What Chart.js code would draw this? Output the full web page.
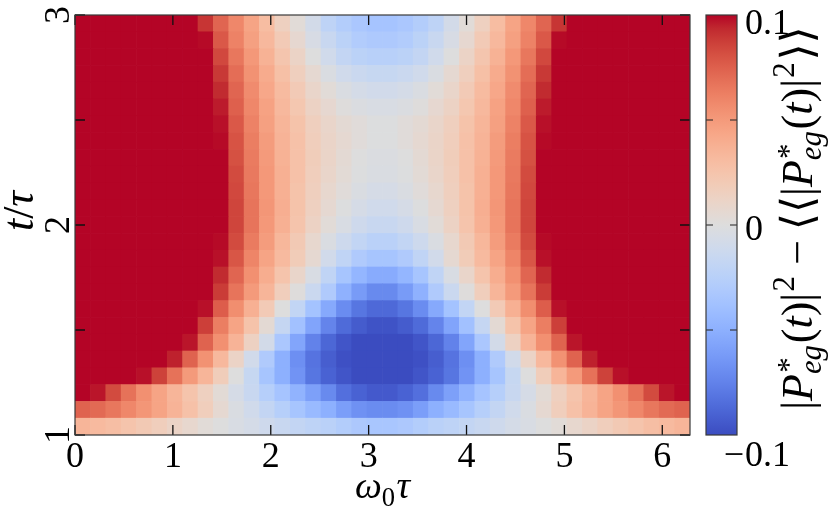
<!DOCTYPE html>
<html>
<head>
<meta charset="utf-8">
<script src="https://cdn.jsdelivr.net/npm/chart.js@4.4.1/dist/chart.umd.min.js"></script>
<style>
  html, body { margin: 0; padding: 0; background: #fff; }
  #wrap { position: relative; width: 831px; height: 508px; }
  #wrap canvas { position: absolute; top: 0; }
  #heat { left: 0; }
  #cbar { left: 690px; }
</style>
</head>
<body>
<div id="wrap">
  <canvas id="heat" width="831" height="508"></canvas>
  <canvas id="cbar" width="141" height="508"></canvas>
</div>
<script>
const SERIF = '"Liberation Serif", "DejaVu Serif", serif';

// omega_0 tau : centres of the 40 columns
const omegaTau = [0.079, 0.236, 0.393, 0.550, 0.707, 0.864, 1.021, 1.178, 1.335, 1.492,
  1.649, 1.806, 1.963, 2.120, 2.278, 2.435, 2.592, 2.749, 2.906, 3.063,
  3.220, 3.377, 3.534, 3.691, 3.848, 4.006, 4.163, 4.320, 4.477, 4.634,
  4.791, 4.948, 5.105, 5.262, 5.419, 5.576, 5.733, 5.890, 6.048, 6.205];

// t / tau : row boundaries (25 rows)
const tEdges = [1, 1.08, 1.16, 1.24, 1.32, 1.40, 1.48, 1.56, 1.64, 1.72, 1.80, 1.88, 1.96,
  2.04, 2.12, 2.20, 2.28, 2.36, 2.44, 2.52, 2.60, 2.68, 2.76, 2.84, 2.92, 3];

// |P|^2 - <<|P|^2>>, one row per t (clipped at +-0.1)
const z104 = [.035,.032,.029,.025,.021,.017,.012,.008,.003,0,-.004,-.007,-.011,-.015,-.018,-.021,-.024,-.028,-.032,-.034,-.034,-.032,-.028,-.024,-.021,-.018,-.015,-.011,-.007,-.004,0,.003,.008,.012,.017,.021,.025,.029,.032,.035];
const z112 = [.074,.071,.066,.059,.052,.045,.036,.027,.017,.006,-.003,-.01,-.018,-.026,-.035,-.043,-.05,-.06,-.067,-.07,-.07,-.067,-.06,-.05,-.043,-.035,-.026,-.018,-.01,-.003,.006,.017,.027,.036,.045,.052,.059,.066,.071,.074];
const z120 = [.1,.097,.083,.068,.055,.045,.035,.025,.015,.004,-.006,-.015,-.026,-.036,-.048,-.059,-.071,-.084,-.09,-.094,-.094,-.09,-.084,-.071,-.059,-.048,-.036,-.026,-.015,-.006,.004,.015,.025,.035,.045,.055,.068,.083,.097,.1];
const z128 = [.1,.1,.1,.1,.098,.086,.068,.05,.035,.018,0,-.016,-.035,-.05,-.066,-.081,-.09,-.096,-.1,-.1,-.1,-.1,-.096,-.09,-.081,-.066,-.05,-.035,-.016,0,.018,.035,.05,.068,.086,.098,.1,.1,.1,.1];
const z136 = [.1,.1,.1,.1,.1,.1,.095,.074,.054,.033,.012,-.009,-.03,-.05,-.068,-.082,-.092,-.098,-.1,-.1,-.1,-.1,-.098,-.092,-.082,-.068,-.05,-.03,-.009,.012,.033,.054,.074,.095,.1,.1,.1,.1,.1,.1];
const z144 = [.1,.1,.1,.1,.1,.1,.1,.097,.074,.055,.036,.014,-.008,-.033,-.056,-.075,-.088,-.096,-.1,-.1,-.1,-.1,-.096,-.088,-.075,-.056,-.033,-.008,.014,.036,.055,.074,.097,.1,.1,.1,.1,.1,.1,.1];
const z152 = [.1,.1,.1,.1,.1,.1,.1,.1,.087,.063,.045,.026,.005,-.017,-.038,-.057,-.074,-.086,-.093,-.097,-.097,-.093,-.086,-.074,-.057,-.038,-.017,.005,.026,.045,.063,.087,.1,.1,.1,.1,.1,.1,.1,.1];
const z160 = [.1,.1,.1,.1,.1,.1,.1,.1,.098,.076,.056,.038,.02,0,-.019,-.037,-.054,-.07,-.081,-.087,-.087,-.081,-.07,-.054,-.037,-.019,0,.02,.038,.056,.076,.098,.1,.1,.1,.1,.1,.1,.1,.1];
const z168 = [.1,.1,.1,.1,.1,.1,.1,.1,.1,.088,.067,.05,.035,.017,.001,-.014,-.03,-.049,-.062,-.071,-.071,-.062,-.049,-.03,-.014,.001,.017,.035,.05,.067,.088,.1,.1,.1,.1,.1,.1,.1,.1,.1];
const z176 = [.1,.1,.1,.1,.1,.1,.1,.1,.1,.093,.073,.055,.04,.025,.01,-.004,-.02,-.035,-.046,-.053,-.053,-.046,-.035,-.02,-.004,.01,.025,.04,.055,.073,.093,.1,.1,.1,.1,.1,.1,.1,.1,.1];
const z184 = [.1,.1,.1,.1,.1,.1,.1,.1,.1,.098,.079,.06,.045,.032,.019,.006,-.009,-.02,-.03,-.035,-.035,-.03,-.02,-.009,.006,.019,.032,.045,.06,.079,.098,.1,.1,.1,.1,.1,.1,.1,.1,.1];
const z192 = [.1,.1,.1,.1,.1,.1,.1,.1,.1,.099,.083,.064,.049,.034,.021,.008,-.003,-.012,-.019,-.024,-.024,-.019,-.012,-.003,.008,.021,.034,.049,.064,.083,.099,.1,.1,.1,.1,.1,.1,.1,.1,.1];
const z200 = [.1,.1,.1,.1,.1,.1,.1,.1,.1,.1,.085,.067,.051,.038,.025,.013,.003,-.004,-.011,-.015,-.015,-.011,-.004,.003,.013,.025,.038,.051,.067,.085,.1,.1,.1,.1,.1,.1,.1,.1,.1,.1];
const z208 = [.1,.1,.1,.1,.1,.1,.1,.1,.1,.1,.085,.067,.052,.039,.026,.015,.006,-.001,-.006,-.01,-.01,-.006,-.001,.006,.015,.026,.039,.052,.067,.085,.1,.1,.1,.1,.1,.1,.1,.1,.1,.1];
const z216 = [.1,.1,.1,.1,.1,.1,.1,.1,.1,.1,.084,.066,.051,.038,.026,.016,.008,.002,-.003,-.006,-.006,-.003,.002,.008,.016,.026,.038,.051,.066,.084,.1,.1,.1,.1,.1,.1,.1,.1,.1,.1];
const z224 = [.1,.1,.1,.1,.1,.1,.1,.1,.1,.1,.083,.065,.051,.038,.027,.017,.01,.004,-.001,-.003,-.003,-.001,.004,.01,.017,.027,.038,.051,.065,.083,.1,.1,.1,.1,.1,.1,.1,.1,.1,.1];
const z232 = [.1,.1,.1,.1,.1,.1,.1,.1,.1,.1,.081,.064,.05,.037,.027,.018,.011,.005,0,-.002,-.002,0,.005,.011,.018,.027,.037,.05,.064,.081,.1,.1,.1,.1,.1,.1,.1,.1,.1,.1];
const z240 = [.1,.1,.1,.1,.1,.1,.1,.1,.1,.099,.08,.063,.049,.036,.027,.017,.011,.006,.002,-.001,-.001,.002,.006,.011,.017,.027,.036,.049,.063,.08,.099,.1,.1,.1,.1,.1,.1,.1,.1,.1];
const z248 = [.1,.1,.1,.1,.1,.1,.1,.1,.1,.098,.078,.061,.047,.035,.026,.016,.01,.005,.002,-.001,-.001,.002,.005,.01,.016,.026,.035,.047,.061,.078,.098,.1,.1,.1,.1,.1,.1,.1,.1,.1];
const z256 = [.1,.1,.1,.1,.1,.1,.1,.1,.1,.096,.075,.059,.046,.033,.023,.013,.007,.001,-.002,-.004,-.004,-.002,.001,.007,.013,.023,.033,.046,.059,.075,.096,.1,.1,.1,.1,.1,.1,.1,.1,.1];
const z264 = [.1,.1,.1,.1,.1,.1,.1,.1,.1,.093,.073,.057,.043,.031,.02,.01,.003,-.003,-.007,-.009,-.009,-.007,-.003,.003,.01,.02,.031,.043,.057,.073,.093,.1,.1,.1,.1,.1,.1,.1,.1,.1];
const z272 = [.1,.1,.1,.1,.1,.1,.1,.1,.1,.089,.07,.054,.041,.028,.016,.006,-.003,-.01,-.014,-.016,-.016,-.014,-.01,-.003,.006,.016,.028,.041,.054,.07,.089,.1,.1,.1,.1,.1,.1,.1,.1,.1];
const z280 = [.1,.1,.1,.1,.1,.1,.1,.1,.1,.084,.066,.051,.037,.024,.012,0,-.01,-.018,-.023,-.025,-.025,-.023,-.018,-.01,0,.012,.024,.037,.051,.066,.084,.1,.1,.1,.1,.1,.1,.1,.1,.1];
const z288 = [.1,.1,.1,.1,.1,.1,.1,.1,.099,.078,.061,.047,.033,.02,.007,-.005,-.015,-.023,-.029,-.031,-.031,-.029,-.023,-.015,-.005,.007,.02,.033,.047,.061,.078,.099,.1,.1,.1,.1,.1,.1,.1,.1];
const z296 = [.1,.1,.1,.1,.1,.1,.1,.1,.09,.073,.059,.045,.03,.015,.003,-.008,-.021,-.028,-.033,-.036,-.036,-.033,-.028,-.021,-.008,.003,.015,.030,.045,.059,.073,.09,.1,.1,.1,.1,.1,.1,.1,.1];

const zRows = [z104, z112, z120, z128, z136, z144, z152, z160, z168, z176, z184, z192, z200,
  z208, z216, z224, z232, z240, z248, z256, z264, z272, z280, z288, z296];

// axes
const xTicks = [0, 1, 2, 3, 4, 5, 6];
const xTickLabels = ['0', '1', '2', '3', '4', '5', '6'];
const yTicks = [1, 1.5, 2, 2.5, 3];
const yLabelTicks = [1, 2, 3];
const yTickLabels = ['1', '2', '3'];
const Z_MIN = -0.1, Z_MAX = 0.1;
const cbTicks = [-0.05, 0, 0.05];
const cbLabelValues = [-0.1, 0, 0.1];
const cbLabels = ['−0.1', '0', '0.1'];
const cbLabelDy = [22, 6, 10];

// matplotlib "coolwarm"
const coolwarm = [[59,76,192],[68,90,204],[77,104,215],[87,117,225],[98,130,234],[108,142,241],
  [119,154,247],[130,165,251],[141,176,254],[152,185,255],[163,194,255],[174,201,253],
  [184,208,249],[194,213,244],[204,217,238],[213,219,230],[221,221,221],[229,216,209],
  [236,211,197],[241,204,184],[245,196,172],[247,187,160],[247,177,148],[247,166,135],
  [244,154,123],[241,141,111],[236,127,99],[229,112,88],[222,96,77],[213,80,66],
  [203,62,56],[192,40,47],[180,4,38]];

function colorFor(v) {
  const s = Math.min(1, Math.max(0, (v - Z_MIN) / (Z_MAX - Z_MIN))) * 32;
  const k = Math.min(31, Math.floor(s));
  const f = s - k;
  const a = coolwarm[k], b = coolwarm[k + 1];
  const c = a.map((ch, n) => Math.round(ch + (b[n] - ch) * f));
  return `rgb(${c[0]},${c[1]},${c[2]})`;
}

// little TeX-like text runs (italic, sub/superscripts)
function runMath(ctx, parts, size, draw) {
  let x = 0;
  for (const p of parts) {
    if (p.sup !== undefined || p.sub !== undefined) {
      const s = size * 0.7;
      let w = 0;
      if (p.sup) {
        ctx.font = `${s}px ${SERIF}`;
        if (draw) ctx.fillText(p.sup, x + size * 0.03, -size * (p.sup === '*' ? 0.3 : 0.4));
        w = Math.max(w, ctx.measureText(p.sup).width + size * 0.03);
      }
      if (p.sub) {
        ctx.font = `${p.up ? '' : 'italic '}${s}px ${SERIF}`;
        if (draw) ctx.fillText(p.sub, x, size * 0.2);
        w = Math.max(w, ctx.measureText(p.sub).width);
      }
      x += w + size * 0.04;
    } else {
      ctx.font = `${p.i ? 'italic ' : ''}${size * (p.k || 1)}px ${SERIF}`;
      const gap = (p.gap || 0) * size;
      x += gap;
      if (draw) ctx.fillText(p.t, x, 0);
      x += ctx.measureText(p.t).width + gap;
    }
  }
  return x;
}

function drawMath(ctx, parts, size, cx, cy, angle) {
  ctx.save();
  ctx.translate(cx, cy);
  ctx.rotate(angle);
  ctx.fillStyle = '#000';
  ctx.textAlign = 'left';
  ctx.textBaseline = 'alphabetic';
  const w = runMath(ctx, parts, size, false);
  ctx.translate(-w / 2, 0);
  runMath(ctx, parts, size, true);
  ctx.restore();
}

const xTitle = [{ t: 'ω', i: 1 }, { sub: '0', up: 1 }, { t: 'τ', i: 1 }];
const yTitle = [{ t: 't', i: 1 }, { t: '/' }, { t: 'τ', i: 1 }];
const absP = [{ t: '|' }, { t: 'P', i: 1 }, { sup: '*', sub: 'eg' }, { t: '(' }, { t: 't', i: 1 },
  { t: ')' }, { t: '|' }, { sup: '2' }];
const cbTitle = [...absP, { t: '−', gap: 0.22 }, { t: '⟨⟨' }, ...absP, { t: '⟩⟩' }];

// frame, inward ticks, rotated y labels and titles of the map
const mapDecor = {
  id: 'mapDecor',
  afterDraw(chart) {
    const { ctx, chartArea: a, scales: { x, y } } = chart;
    ctx.save();
    ctx.strokeStyle = '#111';
    ctx.lineWidth = 1.3;
    ctx.beginPath();
    xTicks.forEach(v => {
      const px = x.getPixelForValue(v);
      ctx.moveTo(px, a.bottom); ctx.lineTo(px, a.bottom - 10);
      ctx.moveTo(px, a.top); ctx.lineTo(px, a.top + 10);
    });
    yTicks.forEach(v => {
      const py = y.getPixelForValue(v);
      ctx.moveTo(a.left, py); ctx.lineTo(a.left + 10, py);
      ctx.moveTo(a.right, py); ctx.lineTo(a.right - 10, py);
    });
    ctx.stroke();
    ctx.strokeStyle = '#3a3a3a';
    ctx.lineWidth = 1.2;
    ctx.strokeRect(a.left, a.top, a.width, a.height);

    ctx.fillStyle = '#000';
    ctx.font = `36px ${SERIF}`;
    ctx.textAlign = 'center';
    ctx.textBaseline = 'alphabetic';
    yLabelTicks.forEach((v, n) => {
      ctx.save();
      ctx.translate(a.left - 6, y.getPixelForValue(v));
      ctx.rotate(-Math.PI / 2);
      ctx.fillText(yTickLabels[n], 0, 0);
      ctx.restore();
    });
    ctx.restore();

    drawMath(ctx, xTitle, 38, (a.left + a.right) / 2, a.bottom + 63, 0);
    drawMath(ctx, yTitle, 44, a.left - 42, (a.top + a.bottom) / 2 - 14, -Math.PI / 2);
  }
};

const cbarDecor = {
  id: 'cbarDecor',
  afterDraw(chart) {
    const { ctx, chartArea: a, scales: { y } } = chart;
    ctx.save();
    ctx.strokeStyle = '#222';
    ctx.lineWidth = 1.2;
    ctx.beginPath();
    cbTicks.forEach(v => {
      const py = y.getPixelForValue(v);
      ctx.moveTo(a.left, py); ctx.lineTo(a.left + 7, py);
      ctx.moveTo(a.right, py); ctx.lineTo(a.right - 7, py);
    });
    ctx.stroke();
    ctx.strokeStyle = '#3a3a3a';
    ctx.strokeRect(a.left, a.top, a.width, a.height);

    ctx.fillStyle = '#000';
    ctx.font = `36px ${SERIF}`;
    ctx.textBaseline = 'middle';
    const lx = a.right + 8;
    cbLabelValues.forEach((v, n) => {
      const py = y.getPixelForValue(v) + cbLabelDy[n];
      let txt = cbLabels[n];
      if (txt.startsWith('−')) {
        ctx.textAlign = 'right';
        ctx.fillText('−', lx - 1, py);
        txt = txt.slice(1);
      }
      ctx.textAlign = 'left';
      ctx.fillText(txt, lx, py);
    });
    ctx.restore();

    drawMath(ctx, cbTitle, 44, a.right + 75, (a.top + a.bottom) / 2 - 7, -Math.PI / 2);
  }
};

const datasets = zRows.map((row, j) => ({
  data: row.map((z, i) => ({ x: omegaTau[i], y: [tEdges[j], tEdges[j + 1]] })),
  backgroundColor: row.map(colorFor),
  grouped: false,
  barPercentage: 1,
  categoryPercentage: 1,
  borderWidth: 0
}));

new Chart(document.getElementById('heat'), {
  type: 'bar',
  data: { datasets },
  options: {
    responsive: false,
    animation: false,
    events: [],
    layout: { padding: { left: 0, top: 15, right: 141, bottom: 0 } },
    plugins: { legend: { display: false }, tooltip: { enabled: false } },
    scales: {
      x: {
        type: 'linear', min: 0, max: 2 * Math.PI, offset: false,
        afterBuildTicks: s => { s.ticks = xTicks.map(v => ({ value: v })); },
        afterFit: s => { s.height = 73; s.paddingLeft = 0; s.paddingRight = 0; },
        grid: { display: false, drawTicks: false },
        border: { display: false },
        ticks: {
          autoSkip: false, maxRotation: 0, minRotation: 0, padding: 1, color: '#000',
          font: { family: SERIF, size: 36 },
          callback: (v, n) => xTickLabels[n]
        }
      },
      y: {
        type: 'linear', min: 1, max: 3,
        afterBuildTicks: s => { s.ticks = yTicks.map(v => ({ value: v })); },
        afterFit: s => { s.width = 75; s.paddingTop = 0; s.paddingBottom = 0; },
        grid: { display: false, drawTicks: false },
        border: { display: false },
        ticks: { display: false }
      }
    }
  },
  plugins: [mapDecor]
});

new Chart(document.getElementById('cbar'), {
  type: 'bar',
  data: {
    labels: [''],
    datasets: [{
      data: [[Z_MIN, Z_MAX]],
      backgroundColor: c => {
        const a = c.chart.chartArea;
        if (!a) return 'transparent';
        const g = c.chart.ctx.createLinearGradient(0, a.bottom, 0, a.top);
        coolwarm.forEach((rgb, k) => g.addColorStop(k / 32, `rgb(${rgb.join(',')})`));
        return g;
      },
      barPercentage: 1,
      categoryPercentage: 1,
      borderWidth: 0
    }]
  },
  options: {
    responsive: false,
    animation: false,
    events: [],
    layout: { padding: { left: 16, top: 15, right: 0, bottom: 73 } },
    plugins: { legend: { display: false }, tooltip: { enabled: false } },
    scales: {
      x: { display: false },
      y: {
        position: 'right', min: Z_MIN, max: Z_MAX,
        afterFit: s => { s.width = 94; s.paddingTop = 0; s.paddingBottom = 0; },
        grid: { display: false, drawTicks: false },
        border: { display: false },
        ticks: { display: false }
      }
    }
  },
  plugins: [cbarDecor]
});
</script>
</body>
</html>
